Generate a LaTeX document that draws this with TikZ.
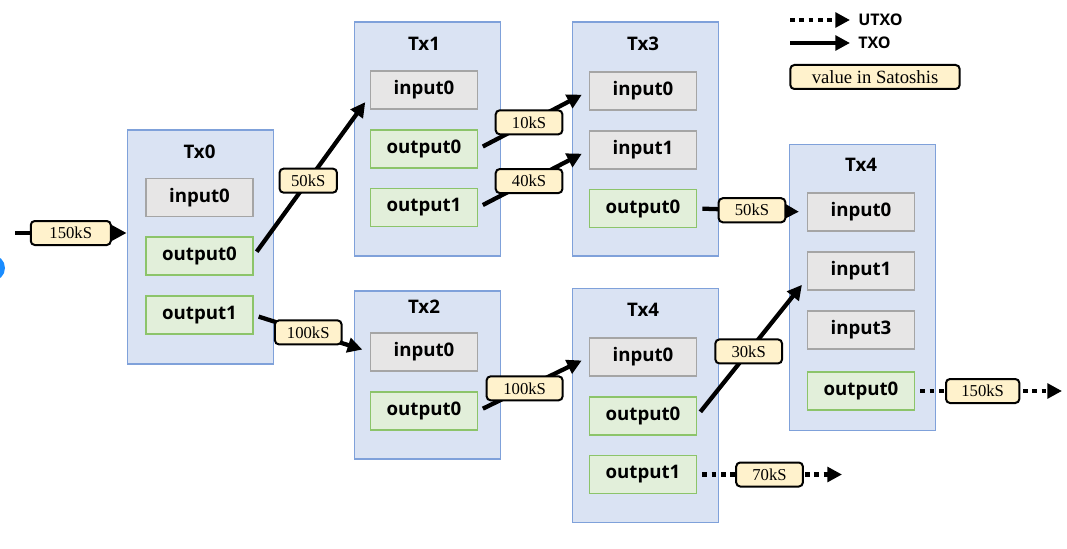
\documentclass[tikz,border=0pt]{standalone}
\usepackage{fontspec}
\setmainfont{Liberation Serif}
\setsansfont{Open Sans}
\usetikzlibrary{arrows.meta}
\definecolor{txfill}{HTML}{DAE3F3}
\definecolor{txline}{HTML}{7FA1DA}
\definecolor{infill}{HTML}{E7E6E6}
\definecolor{inline}{HTML}{A5A5A5}
\definecolor{outfill}{HTML}{E2EFDA}
\definecolor{outline}{HTML}{8CC46A}
\definecolor{valfill}{HTML}{FFF2CC}
\definecolor{dotblue}{HTML}{1A8CFF}
\tikzset{
  txbox/.style={draw=txline, fill=txfill, line width=0.9pt, minimum width=110pt},
  txtitle/.style={font=\sffamily\bfseries\fontsize{14}{16}\selectfont},
  inbox/.style={draw=inline, fill=infill, line width=1.1pt, minimum width=80pt, minimum height=28.5pt, font=\sffamily\bfseries\fontsize{14}{16}\selectfont},
  outbox/.style={inbox, draw=outline, fill=outfill},
  val/.style={draw, solid, fill=valfill, rounded corners=3pt, line width=1.5pt, inner xsep=5pt, inner ysep=2pt, minimum height=18pt, minimum width=50pt, font=\fontsize{12.5}{14}\selectfont},
  txo/.style={line width=3.2pt, -{Triangle[length=11pt,width=11pt]}, shorten <=4pt, shorten >=6pt},
  utxo/.style={txo, dash pattern=on 3.5pt off 3.5pt},
}
\begin{document}
\begin{tikzpicture}[x=0.75pt, y=-0.75pt]
  \useasboundingbox (0,0) rectangle (1067,549);
  \fill[dotblue] (-8,268) circle (13);
  % transactions
  \node[txbox, minimum height=175.5pt] (tx0) at (200.5,247) {};
  \node[txtitle] (tx0t) at (199.5,152) {Tx0};
  \node[inbox] (tx0in0) at (199.5,197.5) {input0};
  \node[outbox] (tx0out0) at (199.5,256) {output0};
  \node[outbox] (tx0out1) at (199.5,315) {output1};

  \node[txbox, minimum height=175.5pt] (tx1) at (427.5,139) {};
  \node[txtitle] (tx1t) at (424,44) {Tx1};
  \node[inbox] (tx1in0) at (424,90) {input0};
  \node[outbox] (tx1out0) at (424,149) {output0};
  \node[outbox] (tx1out1) at (424,207.5) {output1};

  \node[txbox, minimum height=126pt] (tx2) at (427.5,375) {};
  \node[txtitle] (tx2t) at (424,307) {Tx2};
  \node[inbox] (tx2in0) at (424,352) {input0};
  \node[outbox] (tx2out0) at (424,411) {output0};

  \node[txbox, minimum height=175.5pt] (tx3) at (645.5,139) {};
  \node[txtitle] (tx3t) at (643,44) {Tx3};
  \node[inbox] (tx3in0) at (643,91) {input0};
  \node[inbox] (tx3in1) at (643,150) {input1};
  \node[outbox] (tx3out0) at (643,208.5) {output0};

  \node[txbox, minimum height=175pt] (tx4a) at (645.5,405.5) {};
  \node[txtitle] (tx4at) at (643,310) {Tx4};
  \node[inbox] (tx4ain0) at (643,357) {input0};
  \node[outbox] (tx4aout0) at (643,416) {output0};
  \node[outbox] (tx4aout1) at (643,474.5) {output1};

  \node[txbox, minimum height=215pt] (tx4b) at (862.5,287.5) {};
  \node[txtitle] (tx4bt) at (861,165) {Tx4};
  \node[inbox] (tx4bin0) at (861,212) {input0};
  \node[inbox] (tx4bin1) at (861,271) {input1};
  \node[inbox] (tx4bin3) at (861,330) {input3};
  \node[outbox] (tx4bout0) at (861,391) {output0};

  % flows of value
  \coordinate (start) at (15,233);
  \coordinate (end1) at (842,474.5);
  \coordinate (end2) at (1062,391);
  \draw[txo, shorten <=0pt, shorten >=0pt] (start) -- node[val, minimum width=60pt] (v0) {150kS} (tx0.west |- start);
  \draw[txo] (tx0out0.east) -- node[val, minimum width=43pt, pos=0.47] (v1) {50kS} (tx1in0.186);
  \draw[txo] (tx0out1.east) -- node[val, pos=0.47] (v2) {100kS} (tx2in0.west);
  \draw[txo] (tx1out0.east) -- node[val, pos=0.46] (v3) {10kS} (tx3in0.west);
  \draw[txo] (tx1out1.east) -- node[val, pos=0.46] (v4) {40kS} (tx3in1.west);
  \draw[txo] (tx3out0.east) -- node[val] (v5) {50kS} (tx4bin0.west);
  \draw[txo] (tx2out0.east) -- node[val, minimum width=57pt, pos=0.42] (v6) {100kS} (tx4ain0.west);
  \draw[txo] (tx4aout0.east) -- node[val, pos=0.47] (v7) {30kS} (tx4bin1.188);
  \draw[utxo, shorten >=0pt] (tx4aout1.east) -- node[val] (v8) {70kS} (end1);
  \draw[utxo, shorten >=0pt] (tx4bout0.east) -- node[val, minimum width=55pt, pos=0.46] (v9) {150kS} (end2);

  % legend
  \coordinate (lg1a) at (790,20);
  \coordinate (lg1b) at (850,20);
  \coordinate (lg2a) at (790,43);
  \coordinate (lg2b) at (850,43);
  \draw[utxo, shorten <=0pt, shorten >=0pt] (lg1a) -- (lg1b);
  \draw[txo, shorten <=0pt, shorten >=0pt] (lg2a) -- (lg2b);
  \node[anchor=west, font=\sffamily\bfseries\fontsize{12}{14}\selectfont, inner sep=0pt] (lgutxo) at (858,20) {UTXO};
  \node[anchor=west, font=\sffamily\bfseries\fontsize{12}{14}\selectfont, inner sep=0pt] (lgtxo) at (858,43) {TXO};
  \node[val, minimum width=127pt, font=\fontsize{14}{16}\selectfont] (lgval) at (875,77) {value in Satoshis};
\end{tikzpicture}
\end{document}
